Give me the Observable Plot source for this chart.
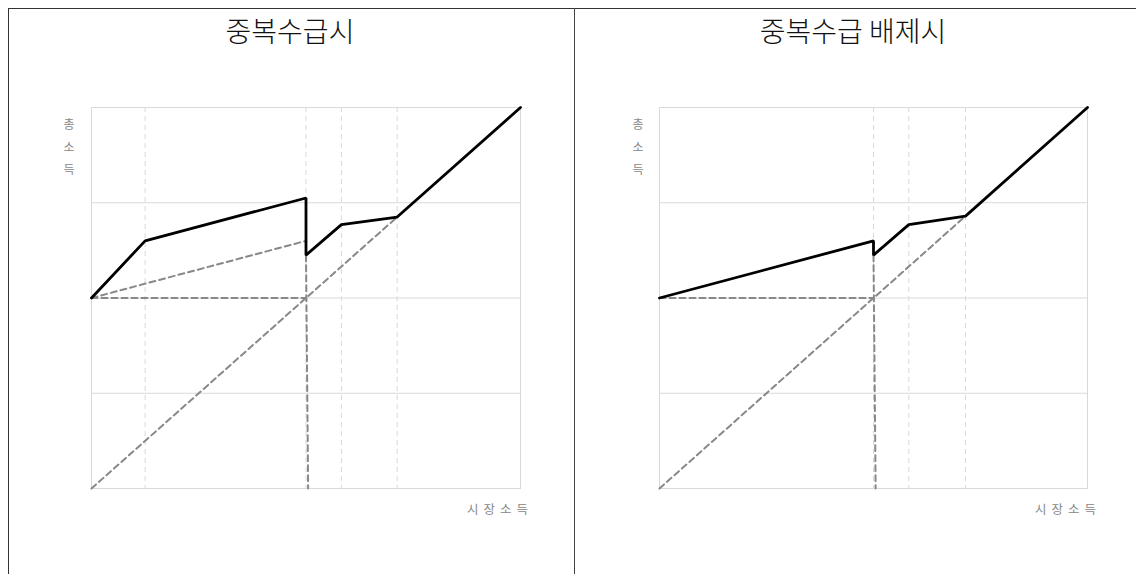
<!DOCTYPE html>
<html>
<head>
<meta charset="utf-8">
<script src="https://cdn.jsdelivr.net/npm/d3@7"></script>
<script src="https://cdn.jsdelivr.net/npm/@observablehq/plot@0.6"></script>
<style>
  body { margin: 0; background: #fff; }
  #wrap { position: relative; width: 1136px; height: 574px; overflow: hidden; font-family: "Noto Sans CJK KR", "Noto Sans", sans-serif; }
  .border-top { position: absolute; left: 8px; top: 8px; width: 1128px; height: 1px; background: #333; }
  .border-left { position: absolute; left: 8px; top: 8px; width: 1px; height: 566px; background: #333; }
  .divider { position: absolute; left: 574px; top: 8px; width: 1px; height: 566px; background: #444; }
  .title { position: absolute; top: 10px; font-size: 28px; color: #111; transform: translateX(-50%); white-space: pre; font-weight: 300; }
  .ylab { position: absolute; top: 113px; font-size: 12px; color: #888; line-height: 22.5px; text-align: center; width: 14px; }
  .xlab { position: absolute; top: 499px; font-size: 12.5px; color: #888; letter-spacing: 5px; transform: translateX(-50%); white-space: pre; }
</style>
</head>
<body>
<div id="wrap">
  <div class="border-top"></div>
  <div class="border-left"></div>
  <div class="divider"></div>
</div>
<script>
// ---- data ----
const titles = ["중복수급시", "중복수급 배제시"];
const yLabel = ["총", "소", "득"];
const xLabel = "시장소득";

// bold black line: total income vs market income
const incomeLeft = [0, 0.5, 2.0, 2.0, 2.33, 2.85, 4];
const totalLeft  = [2, 2.6, 3.05, 2.45, 2.77, 2.85, 4];
const incomeRight = [0, 2.0, 2.0, 2.33, 2.86, 4];
const totalRight  = [2, 2.6, 2.45, 2.77, 2.86, 4];

// gray dashed reference lines (each a pair of points)
const refLeftX = [[0, 2], [0, 2.0], [0, 2.85], [2.0, 2.02]];
const refLeftY = [[2, 2], [2, 2.6], [0, 2.85], [2.45, 0]];
const refRightX = [[0, 2], [0, 2.86], [2.0, 2.02]];
const refRightY = [[2, 2], [0, 2.86], [2.45, 0]];

// dashed vertical guide positions
const guidesLeft = [0.5, 2.0, 2.33, 2.85];
const guidesRight = [2.0, 2.33, 2.86];
// horizontal gridlines
const gridY = [1, 2, 3];

const panels = [
  {left: 8, width: 567, ml: 83, mr: 55, ix: incomeLeft, ty: totalLeft, rx: refLeftX, ry: refLeftY, guides: guidesLeft, titleX: 290, ylabX: 62, xlabX: 500},
  {left: 575, width: 561, ml: 84, mr: 49, ix: incomeRight, ty: totalRight, rx: refRightX, ry: refRightY, guides: guidesRight, titleX: 853, ylabX: 631, xlabX: 1068}
];

const wrap = document.getElementById("wrap");
panels.forEach((p, k) => {
  const line = p.ix.map((x, i) => ({x, y: p.ty[i]}));
  const refs = [];
  p.rx.forEach((xs, j) => xs.forEach((x, i) => refs.push({seg: j, x, y: p.ry[j][i]})));
  const chart = Plot.plot({
    width: p.width,
    height: 574,
    marginLeft: p.ml,
    marginRight: p.mr,
    marginTop: 107,
    marginBottom: 86,
    x: {domain: [0, 4], axis: null},
    y: {domain: [0, 4], axis: null},
    marks: [
      Plot.ruleY(gridY, {stroke: "#d9d9d9", strokeWidth: 1}),
      Plot.ruleX(p.guides, {stroke: "#d9d9d9", strokeWidth: 1, strokeDasharray: "5,4"}),
      Plot.frame({stroke: "#d9d9d9", strokeWidth: 1}),
      Plot.line(refs, {x: "x", y: "y", z: "seg", stroke: "#888", strokeWidth: 2, strokeDasharray: "6,4"}),
      Plot.line(line, {x: "x", y: "y", stroke: "#000", strokeWidth: 2.8, strokeLinejoin: "miter"})
    ]
  });
  chart.style.position = "absolute";
  chart.style.left = p.left + "px";
  chart.style.top = "0px";
  chart.style.background = "transparent";
  wrap.appendChild(chart);

  const t = document.createElement("div");
  t.className = "title";
  t.style.left = p.titleX + "px";
  t.textContent = titles[k];
  wrap.appendChild(t);

  const yl = document.createElement("div");
  yl.className = "ylab";
  yl.style.left = p.ylabX + "px";
  yl.innerHTML = yLabel.join("<br>");
  wrap.appendChild(yl);

  const xl = document.createElement("div");
  xl.className = "xlab";
  xl.style.left = p.xlabX + "px";
  xl.textContent = xLabel;
  wrap.appendChild(xl);
});
</script>
</body>
</html>
